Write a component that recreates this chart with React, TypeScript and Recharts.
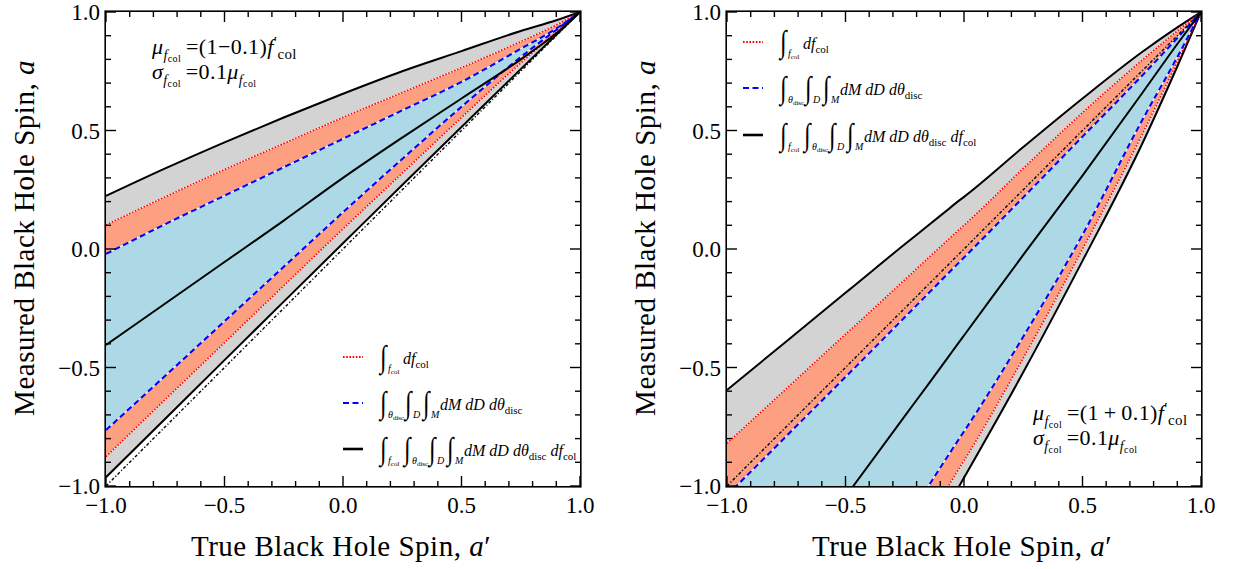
import React from 'react';
import { ComposedChart, Area, Line, XAxis, YAxis } from 'recharts';

const FONT = '"Liberation Serif", "DejaVu Serif", "Times New Roman", serif';

const TICKS = [-1, -0.9, -0.8, -0.7, -0.6, -0.5, -0.4, -0.3, -0.2, -0.1, 0, 0.1, 0.2, 0.3, 0.4, 0.5, 0.6, 0.7, 0.8, 0.9, 1];

// ---- Left panel: mu_fcol = (1-0.1) f'_col ----
const xLeft = [-1, -0.75, -0.5, -0.25, 0, 0.25, 0.5, 0.75, 0.9, 1];
const leftBlackUpper = [0.224, 0.34, 0.45, 0.555, 0.655, 0.75, 0.835, 0.92, 0.965, 1];
const leftRedUpper = [0.101, 0.22, 0.335, 0.445, 0.555, 0.66, 0.765, 0.875, 0.945, 1];
const leftBlueUpper = [-0.021, 0.105, 0.225, 0.345, 0.465, 0.585, 0.705, 0.845, 0.93, 1];
const leftCentre = [-0.405, -0.23, -0.055, 0.12, 0.3, 0.47, 0.635, 0.8, 0.91, 1];
const leftBlueLower = [-0.764, -0.535, -0.305, -0.075, 0.155, 0.38, 0.6, 0.81, 0.925, 1];
const leftRedLower = [-0.876, -0.635, -0.395, -0.155, 0.085, 0.32, 0.555, 0.785, 0.915, 1];
const leftBlackLower = [-0.963, -0.716, -0.469, -0.222, 0.024, 0.27, 0.515, 0.759, 0.904, 1];

// ---- Right panel: mu_fcol = (1+0.1) f'_col ----
const xRight = [-1, -0.75, -0.5, -0.467, -0.25, -0.15, -0.066, -0.02, 0, 0.25, 0.5, 0.75, 0.9, 1];
const rightBlackUpper = [-0.595, -0.39, -0.185, -0.158, 0.02, 0.1, 0.168, 0.205, 0.22, 0.43, 0.635, 0.83, 0.935, 1];
const rightRedUpper = [-0.82, -0.59, -0.36, -0.33, -0.13, -0.037, 0.04, 0.082, 0.1, 0.34, 0.575, 0.795, 0.92, 1];
const rightBlueUpper = [-1.04, -0.79, -0.54, -0.507, -0.288, -0.187, -0.102, -0.056, -0.036, 0.218, 0.474, 0.73, 0.89, 1];
const rightCentre = [-1.725, -1.385, -1.045, -1.0, -0.705, -0.57, -0.455, -0.392, -0.365, -0.025, 0.31, 0.655, 0.865, 1];
const rightBlueLower = [-2.3, -1.92, -1.54, -1.49, -1.155, -1.0, -0.87, -0.8, -0.77, -0.37, 0.06, 0.54, 0.81, 1];
const rightRedLower = [-2.45, -2.07, -1.68, -1.63, -1.29, -1.135, -1.0, -0.925, -0.893, -0.46, 0.0, 0.48, 0.79, 1];
const rightBlackLower = [-2.7, -2.27, -1.84, -1.78, -1.4, -1.225, -1.08, -1.0, -0.965, -0.52, -0.05, 0.44, 0.77, 1];

function buildRows(x, bU, rU, uU, c, uL, rL, bL) {
  return x.map((v, i) => ({
    x: v,
    gray: [bL[i], bU[i]],
    salmon: [rL[i], rU[i]],
    blue: [uL[i], uU[i]],
    bU: bU[i], rU: rU[i], uU: uU[i], c: c[i], uL: uL[i], rL: rL[i], bL: bL[i],
  }));
}

const rowsLeft = buildRows(xLeft, leftBlackUpper, leftRedUpper, leftBlueUpper, leftCentre, leftBlueLower, leftRedLower, leftBlackLower);
const rowsRight = buildRows(xRight, rightBlackUpper, rightRedUpper, rightBlueUpper, rightCentre, rightBlueLower, rightRedLower, rightBlackLower);

const PT = 12;
const PB = 486;
const PW = 474;

const isMajor = (v) => Math.abs(v * 2 - Math.round(v * 2)) < 1e-6;
const fmt = (v) => (v < -1e-9 ? '\u2212' : '') + Math.abs(v).toFixed(1);

const makeXTick = () => (p) => {
  const { x, payload } = p;
  const v = payload.value;
  const L = isMajor(v) ? 10 : 5;
  return (
    <g>
      <line x1={x} x2={x} y1={PB} y2={PB - L} stroke="#000" strokeWidth={1.4} />
      <line x1={x} x2={x} y1={PT} y2={PT + L} stroke="#000" strokeWidth={1.4} />
      {isMajor(v) && (
        <text x={x} y={PB + 27} textAnchor="middle" fontFamily={FONT} fontSize={23} fill="#000">
          {fmt(v)}
        </text>
      )}
    </g>
  );
};

const makeYTick = (pl) => (p) => {
  const { y, payload } = p;
  const v = payload.value;
  const L = isMajor(v) ? 10 : 5;
  return (
    <g>
      <line x1={pl} x2={pl + L} y1={y} y2={y} stroke="#000" strokeWidth={1.4} />
      <line x1={pl + PW} x2={pl + PW - L} y1={y} y2={y} stroke="#000" strokeWidth={1.4} />
      {isMajor(v) && (
        <text x={pl - 6} y={y + 8} textAnchor="end" fontFamily={FONT} fontSize={23} fill="#000">
          {fmt(v)}
        </text>
      )}
    </g>
  );
};

function Panel({ rows, yw, rm }) {
  return (
    <ComposedChart width={600} height={569} data={rows} margin={{ top: PT, right: rm, bottom: 0, left: 0 }}>
      <Area dataKey="gray" type="monotone" fill="#d3d3d3" fillOpacity={1} stroke="none" isAnimationActive={false} />
      <Area dataKey="salmon" type="monotone" fill="#fca081" fillOpacity={1} stroke="#ffffff" strokeWidth={1} isAnimationActive={false} />
      <Area dataKey="blue" type="monotone" fill="#add8e6" fillOpacity={1} stroke="#ffffff" strokeWidth={1} isAnimationActive={false} />
      <Line dataKey="x" type="linear" stroke="#000" strokeWidth={1.4} strokeDasharray="3 2 1.2 2" dot={false} isAnimationActive={false} />
      <Line dataKey="bU" type="monotone" stroke="#000" strokeWidth={2} dot={false} isAnimationActive={false} />
      <Line dataKey="bL" type="monotone" stroke="#000" strokeWidth={2} dot={false} isAnimationActive={false} />
      <Line dataKey="rU" type="monotone" stroke="#ff0000" strokeWidth={1.6} strokeDasharray="1.6 1.6" dot={false} isAnimationActive={false} />
      <Line dataKey="rL" type="monotone" stroke="#ff0000" strokeWidth={1.6} strokeDasharray="1.6 1.6" dot={false} isAnimationActive={false} />
      <Line dataKey="uU" type="monotone" stroke="#0000ff" strokeWidth={2} strokeDasharray="6 3.5" dot={false} isAnimationActive={false} />
      <Line dataKey="uL" type="monotone" stroke="#0000ff" strokeWidth={2} strokeDasharray="6 3.5" dot={false} isAnimationActive={false} />
      <Line dataKey="c" type="monotone" stroke="#000" strokeWidth={2} dot={false} isAnimationActive={false} />
      <XAxis dataKey="x" type="number" domain={[-1, 1]} ticks={TICKS} interval={0} allowDataOverflow tickLine={false} axisLine={false} height={83} tick={makeXTick()} />
      <YAxis type="number" domain={[-1, 1]} ticks={TICKS} interval={0} allowDataOverflow tickLine={false} axisLine={false} width={yw} tick={makeYTick(yw)} />
    </ComposedChart>
  );
}

// ---------- math text helpers ----------
const Sb = ({ children, size, top, italic = false }) => (
  <span style={{ position: 'relative', top, fontSize: size, fontStyle: italic ? 'italic' : 'normal', lineHeight: 0 }}>{children}</span>
);

const FcolA = () => (
  <Sb size={14} top={6}>
    <i>f</i>
    <Sb size={10} top={2}>col</Sb>
  </Sb>
);

function Int({ children, w }) {
  return (
    <span style={{ display: 'inline-block', position: 'relative', width: w, height: 34, flex: 'none' }}>
      <span
        style={{
          position: 'absolute', left: 0, top: 0, width: 8, height: 34, fontSize: 24, lineHeight: '34px',
          fontFamily: FONT, transform: 'scaleY(1.3)', transformOrigin: '50% 50%', overflow: 'visible',
        }}
      >
        {'\u222B'}
      </span>
      <span style={{ position: 'absolute', left: 8, top: 23, fontSize: 10, lineHeight: '11px', fontStyle: 'italic', whiteSpace: 'nowrap' }}>{children}</span>
    </span>
  );
}

const Th = () => (
  <>
    <i>θ</i>
    <Sb size={7} top={2}>disc</Sb>
  </>
);
const FcS = () => (
  <>
    <i>f</i>
    <Sb size={7} top={2}>col</Sb>
  </>
);

const Txt = ({ children }) => <span style={{ fontStyle: 'italic', whiteSpace: 'nowrap', lineHeight: '20px', position: 'relative', top: 2 }}>{children}</span>;
const Disc = () => <Sb size={11} top={4}>disc</Sb>;
const Col = () => <Sb size={11} top={4}>col</Sb>;

const entry1 = (
  <>
    <Int w={23}><FcS /></Int>
    <Txt>df<Col /></Txt>
  </>
);
const entry2 = (
  <>
    <Int w={25}><Th /></Int>
    <Int w={18}>D</Int>
    <Int w={17}>M</Int>
    <Txt>dM dD dθ<Disc /></Txt>
  </>
);
const entry3 = (
  <>
    <Int w={24}><FcS /></Int>
    <Int w={25}><Th /></Int>
    <Int w={18}>D</Int>
    <Int w={17}>M</Int>
    <Txt>dM dD dθ<Disc /> df<Col /></Txt>
  </>
);

function LegendRow({ left, cy, kind, children }) {
  const stroke = kind === 'red' ? '#ff0000' : kind === 'blue' ? '#0000ff' : '#000';
  const dash = kind === 'red' ? '1.6 1.6' : kind === 'blue' ? '6 3.5' : undefined;
  return (
    <div style={{ position: 'absolute', left, top: cy - 20, height: 40, display: 'flex', alignItems: 'center', fontFamily: FONT, fontSize: 16, whiteSpace: 'nowrap' }}>
      <svg width={20} height={6} style={{ marginRight: 17, flex: 'none' }}>
        <line x1={0} x2={20} y1={3} y2={3} stroke={stroke} strokeWidth={kind === 'black' ? 2.6 : 2} strokeDasharray={dash} />
      </svg>
      <span style={{ display: 'inline-flex', alignItems: 'center' }}>{children}</span>
    </div>
  );
}

function Annotation({ left, top, sign }) {
  return (
    <div style={{ position: 'absolute', left, top, fontFamily: FONT, fontSize: 22, lineHeight: '25px', whiteSpace: 'nowrap', letterSpacing: 0.4 }}>
      <div>
        <i>μ</i>
        <FcolA />
        <span>{'\u2009'}=(1{sign}0.1)</span>
        <i>f</i>
        <Sb size={15} top={-7}>′</Sb>
        <Sb size={15} top={5}>col</Sb>
      </div>
      <div>
        <i>σ</i>
        <FcolA />
        <span>{'\u2009'}=0.1</span>
        <i>μ</i>
        <FcolA />
      </div>
    </div>
  );
}

const labelStyle = { position: 'absolute', fontFamily: FONT, fontSize: 29, letterSpacing: 0.5, whiteSpace: 'nowrap', color: '#000' };

export default function App() {
  return (
    <div style={{ position: 'absolute', left: 0, top: 0, width: 1234, height: 569, background: '#fff', overflow: 'hidden' }}>
      <div style={{ position: 'absolute', left: 0, top: 0 }}>
        <Panel rows={rowsLeft} yw={106} rm={20} />
      </div>
      <div style={{ position: 'absolute', left: 620, top: 0 }}>
        <Panel rows={rowsRight} yw={107} rm={19} />
      </div>
      {/* frames */}
      <div style={{ position: 'absolute', left: 105, top: 11, width: 474, height: 474, border: '1px solid #000', boxShadow: '0 0 0 0.6px #000', pointerEvents: 'none' }} />
      <div style={{ position: 'absolute', left: 726, top: 11, width: 474, height: 474, border: '1px solid #000', boxShadow: '0 0 0 0.6px #000', pointerEvents: 'none' }} />

      {/* axis labels */}
      <div style={{ ...labelStyle, left: 341, top: 546, transform: 'translate(-50%, -50%)' }}>
        True Black Hole Spin, <i>a</i>′
      </div>
      <div style={{ ...labelStyle, left: 962, top: 546, transform: 'translate(-50%, -50%)' }}>
        True Black Hole Spin, <i>a</i>′
      </div>
      <div style={{ ...labelStyle, left: 24, top: 238, transform: 'translate(-50%, -50%) rotate(-90deg)' }}>
        Measured Black Hole Spin, <i>a</i>
      </div>
      <div style={{ ...labelStyle, left: 645, top: 238, transform: 'translate(-50%, -50%) rotate(-90deg)' }}>
        Measured Black Hole Spin, <i>a</i>
      </div>

      {/* annotations */}
      <Annotation left={152} top={34} sign={'\u2212'} />
      <Annotation left={1033} top={400} sign={'\u2009+\u2009'} />

      {/* legends */}
      <LegendRow left={343} cy={357} kind="red">{entry1}</LegendRow>
      <LegendRow left={343} cy={403} kind="blue">{entry2}</LegendRow>
      <LegendRow left={343} cy={449} kind="black">{entry3}</LegendRow>

      <LegendRow left={743} cy={42} kind="red">{entry1}</LegendRow>
      <LegendRow left={743} cy={88} kind="blue">{entry2}</LegendRow>
      <LegendRow left={743} cy={135} kind="black">{entry3}</LegendRow>
    </div>
  );
}
